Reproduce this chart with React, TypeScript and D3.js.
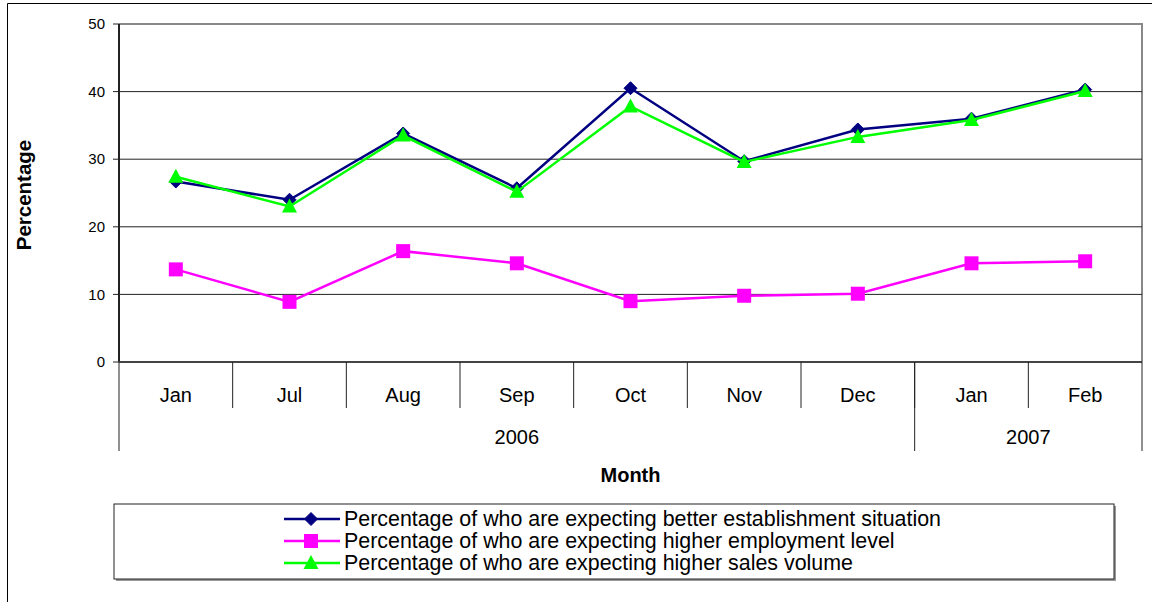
import * as d3 from 'd3'

const months = ['Jan', 'Jul', 'Aug', 'Sep', 'Oct', 'Nov', 'Dec', 'Jan', 'Feb']
const years = [
  { label: '2006', from: 0, to: 7 },
  { label: '2007', from: 7, to: 9 },
]
const establishment = [26.7, 24.0, 33.8, 25.7, 40.5, 29.7, 34.4, 36.0, 40.3]
const employment = [13.7, 8.9, 16.4, 14.6, 9.0, 9.8, 10.1, 14.6, 14.9]
const sales = [27.4, 23.0, 33.5, 25.2, 37.8, 29.6, 33.3, 35.8, 40.1]
const yTicks = [0, 10, 20, 30, 40, 50]

const series = [
  { name: 'Percentage of who are expecting better establishment situation', values: establishment, color: '#000080', marker: 'diamond' },
  { name: 'Percentage of who are expecting higher employment level', values: employment, color: '#FF00FF', marker: 'square' },
  { name: 'Percentage of who are expecting higher sales volume', values: sales, color: '#00FF00', marker: 'triangle' },
]

const W = 1152
const H = 602
const left = 119
const right = 1142
const top = 24
const bottom = 362

const font = 'Arial, "Liberation Sans", sans-serif'

function Marker({ type, cx, cy, color }: { type: string; cx: number; cy: number; color: string }) {
  if (type === 'diamond') {
    const s = 6.5
    return <path d={`M${cx},${cy - s}L${cx + s},${cy}L${cx},${cy + s}L${cx - s},${cy}Z`} fill={color} stroke={color} strokeWidth={1} />
  }
  if (type === 'square') {
    return <rect x={cx - 7} y={cy - 7} width={14} height={14} fill={color} />
  }
  return <path d={`M${cx},${cy - 8}L${cx + 7.5},${cy + 6}L${cx - 7.5},${cy + 6}Z`} fill={color} />
}

export default function App() {
  const x = d3.scaleBand<number>().domain(d3.range(months.length)).range([left, right])
  const y = d3.scaleLinear().domain([0, 50]).range([bottom, top])
  const cx = (i: number) => (x(i) ?? 0) + x.bandwidth() / 2
  const line = d3.line<number>().x((_, i) => cx(i)).y((d) => y(d))

  return (
    <svg width={W} height={H} style={{ position: 'absolute', left: 0, top: 0 }} fontFamily={font}>
      <rect x={0} y={0} width={W} height={H} fill="#fff" />
      {/* outer chart frame */}
      <path d={`M7.5,${H}V3.5H${W}`} fill="none" stroke="#000" strokeWidth={1} />

      {/* plot frame */}
      <path d={`M${left},${top}H${right}V${bottom}`} fill="none" stroke="#888" strokeWidth={2} />
      {yTicks.filter((t) => t > 0 && t < 50).map((t) => (
        <line key={t} x1={left} x2={right} y1={y(t)} y2={y(t)} stroke="#222" strokeWidth={1} />
      ))}

      {/* y axis */}
      <line x1={left} x2={left} y1={top} y2={bottom} stroke="#222" strokeWidth={2} />
      {yTicks.map((t) => (
        <g key={t}>
          <line x1={left - 6} x2={left} y1={y(t)} y2={y(t)} stroke="#222" />
          <text x={105} y={y(t)} dy="0.35em" textAnchor="end" fontSize={15} fill="#000">{t}</text>
        </g>
      ))}
      <text transform={`translate(31,${(top + bottom) / 2 + 2}) rotate(-90)`} textAnchor="middle" fontSize={20.5} fontWeight="bold">Percentage</text>

      {/* x axis */}
      <line x1={left} x2={right} y1={bottom} y2={bottom} stroke="#444" strokeWidth={2} />
      {months.map((m, i) => (
        <g key={i}>
          {i > 0 && <line x1={x(i)} x2={x(i)} y1={bottom} y2={408} stroke="#222" />}
          <text x={cx(i)} y={394.5} dy="0.35em" textAnchor="middle" fontSize={20}>{m}</text>
        </g>
      ))}
      {years.map((yr) => {
        const x0 = x(yr.from) ?? 0
        const x1 = yr.to >= months.length ? right : x(yr.to) ?? right
        return (
          <text key={yr.label} x={(x0 + x1) / 2} y={437} dy="0.35em" textAnchor="middle" fontSize={20}>{yr.label}</text>
        )
      })}
      {[left, x(7) ?? 0, right].map((p, i) => (
        <line key={i} x1={p} x2={p} y1={bottom} y2={451} stroke="#222" />
      ))}
      <text x={(left + right) / 2} y={475} dy="0.35em" textAnchor="middle" fontSize={20} fontWeight="bold">Month</text>

      {/* series */}
      {series.map((s) => (
        <g key={s.name}>
          <path d={line(s.values) ?? undefined} fill="none" stroke={s.color} strokeWidth={2.5} />
          {s.values.map((v, i) => (
            <Marker key={i} type={s.marker} cx={cx(i)} cy={y(v)} color={s.color} />
          ))}
        </g>
      ))}

      {/* legend */}
      <rect x={116} y={506} width={1000} height={75} fill="#999" />
      <rect x={114} y={504} width={1000} height={75} fill="#fff" stroke="#222" strokeWidth={1} />
      {series.map((s, i) => {
        const ly = 519 + i * 22
        return (
          <g key={s.name}>
            <line x1={284} x2={340} y1={ly} y2={ly} stroke={s.color} strokeWidth={2.5} />
            <Marker type={s.marker} cx={311} cy={ly} color={s.color} />
            <text x={344} y={ly} dy="0.35em" fontSize={21.4}>{s.name}</text>
          </g>
        )
      })}
    </svg>
  )
}
